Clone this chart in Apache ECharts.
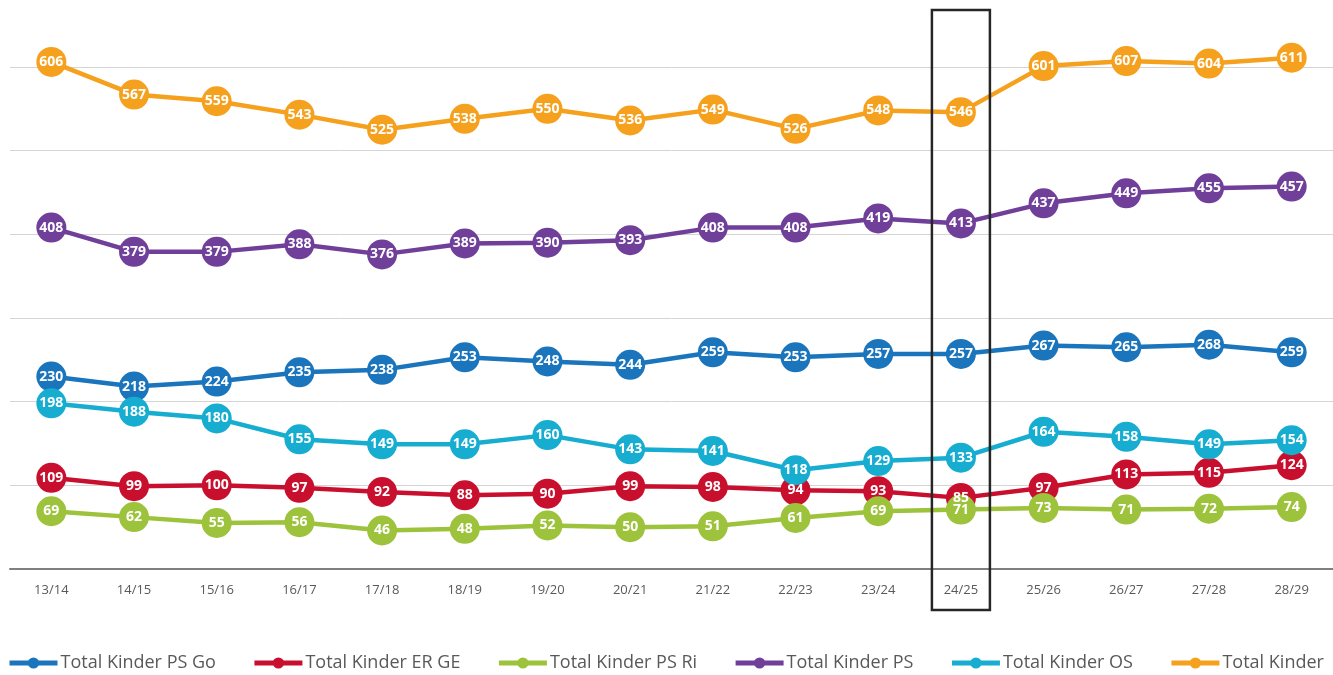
<!DOCTYPE html>
<html>
<head>
<meta charset="utf-8">
<script src="https://cdn.jsdelivr.net/npm/echarts@6/dist/echarts.min.js"></script>
<style>html,body{margin:0;padding:0;background:#fff;}#c{width:1333px;height:675px;}</style>
</head>
<body>
<div id="c"></div>
<script>
const categories = ['13/14','14/15','15/16','16/17','17/18','18/19','19/20','20/21','21/22','22/23','23/24','24/25','25/26','26/27','27/28','28/29'];
const psGo  = [230,218,224,235,238,253,248,244,259,253,257,257,267,265,268,259];
const erGe  = [109,99,100,97,92,88,90,99,98,94,93,85,97,113,115,124];
const psRi  = [69,62,55,56,46,48,52,50,51,61,69,71,73,71,72,74];
const ps    = [408,379,379,388,376,389,390,393,408,408,419,413,437,449,455,457];
const os    = [198,188,180,155,149,149,160,143,141,118,129,133,164,158,149,154];
const total = [606,567,559,543,525,538,550,536,549,526,548,546,601,607,604,611];
const highlightCategory = '24/25';

const seriesDefs = [
  ['Total Kinder PS Go', psGo, '#1a75bc'],
  ['Total Kinder ER GE', erGe, '#c8102e'],
  ['Total Kinder PS Ri', psRi, '#9dc23b'],
  ['Total Kinder PS', ps, '#6f3f99'],
  ['Total Kinder OS', os, '#16add0'],
  ['Total Kinder', total, '#f5a11e']
];

const chart = echarts.init(document.getElementById('c'));
const font = "'Open Sans', sans-serif";
chart.setOption({
  animation: false,
  textStyle: {fontFamily: font},
  grid: {left: 10, right: 0, top: 0, bottom: 106},
  xAxis: {
    type: 'category', data: categories, boundaryGap: true,
    axisLine: {lineStyle: {color: '#7f7f7f', width: 2}},
    axisTick: {show: false},
    axisLabel: {color: '#595959', fontSize: 13, margin: 15, fontFamily: font}
  },
  yAxis: {
    type: 'value', min: 0, max: 680, interval: 100,
    axisLabel: {show: false}, axisLine: {show: false}, axisTick: {show: false},
    splitLine: {show: true, showMaxLine: false, lineStyle: {color: '#d4d4d4', width: 1}}
  },
  legend: {
    bottom: -2, left: 2, itemGap: 36, itemWidth: 48, itemHeight: 14,
    lineStyle: {width: 5},
    textStyle: {color: '#595959', fontSize: 18, fontFamily: font, padding: [0, 0, 0, -2]},
    data: seriesDefs.map(s => s[0])
  },
  series: seriesDefs.map(([name, data, color]) => ({
    name, type: 'line', data,
    symbol: 'circle', symbolSize: 30,
    itemStyle: {color},
    lineStyle: {color, width: 4.5},
    label: {show: true, position: 'inside', color: '#fff', fontWeight: 'bold', fontSize: 14, fontFamily: font},
    emphasis: {disabled: true}
  }))
});

const cx = chart.convertToPixel({xAxisIndex: 0}, highlightCategory);
chart.setOption({
  graphic: [{
    type: 'rect', z: 100,
    shape: {x: cx - 29, y: 10, width: 58, height: 600},
    style: {fill: 'none', stroke: '#262626', lineWidth: 2.5}
  }]
});
</script>
</body>
</html>
